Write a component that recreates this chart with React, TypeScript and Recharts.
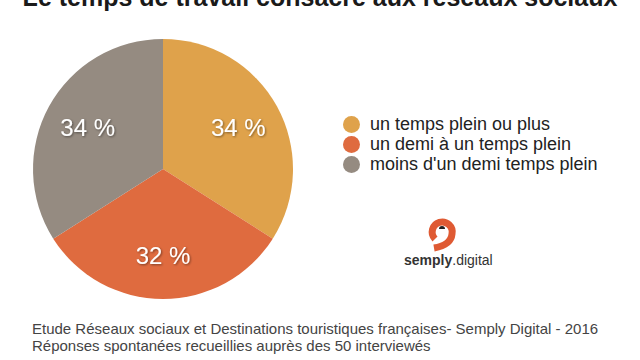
import { PieChart, Pie, Cell } from 'recharts';

const categories = ['un temps plein ou plus', 'un demi à un temps plein', "moins d'un demi temps plein"];
const shares = [34, 32, 34];
const colors = ['#DFA24B', '#DF6B3F', '#958B81'];

const title = 'Le temps de travail consacré aux réseaux sociaux';
const footer = [
    'Etude Réseaux sociaux et Destinations touristiques françaises- Semply Digital - 2016',
    'Réponses spontanées recueillies auprès des 50 interviewés',
];

const data = categories.map((name, i) => ({ name, value: shares[i] }));

const RAD = Math.PI / 180;

const renderLabel = (props: any) => {
    const { cx, cy, midAngle, value } = props;
    const r = 86;
    const x = cx + r * Math.cos(-midAngle * RAD);
    const y = cy + r * Math.sin(-midAngle * RAD);
    return (
        <text
            x={x}
            y={y}
            fill="#fff"
            textAnchor="middle"
            dominantBaseline="central"
            fontSize={24}
            fontFamily="'Liberation Sans', Arial, sans-serif"
            filter="url(#lblShadow)"
        >
            {`${value} %`}
        </text>
    );
};

function Logo() {
    return (
        <>
            <svg width={50} height={45} style={{ position: 'absolute', left: 420, top: 210, display: 'block' }}>
                <path d="M 15 29 A 10 10 0 1 1 32 24 Q 31 35 14 38" fill="none" stroke="#DF5A33" strokeWidth={7} />
                <path d="M 19 19 A 3 3 0 0 1 25 19 Z" fill="#222" />
            </svg>
            <div style={{ position: 'absolute', top: 252, left: 404, fontSize: 14, color: '#333', whiteSpace: 'nowrap' }}>
                <b>semply</b>.digital
            </div>
        </>
    );
}

export default function App() {
    return (
        <div style={{ position: 'fixed', left: 0, top: 0, width: 640, height: 360, background: '#fff', overflow: 'hidden', fontFamily: "'Liberation Sans', Arial, sans-serif" }}>
            <div style={{ position: 'absolute', left: 0, width: 640, top: -17, textAlign: 'center', fontSize: 25, fontWeight: 'bold', color: '#1a1a1a', whiteSpace: 'nowrap' }}>
                {title}
            </div>
            <div style={{ position: 'absolute', left: 0, top: 0 }}>
                <PieChart width={330} height={330} margin={{ top: 0, right: 0, bottom: 0, left: 0 }}>
                    <defs>
                        <filter id="lblShadow" x="-20%" y="-20%" width="140%" height="140%">
                            <feDropShadow dx={1} dy={1} stdDeviation={1} floodColor="#000" floodOpacity={0.45} />
                        </filter>
                    </defs>
                    <Pie
                        data={data}
                        dataKey="value"
                        nameKey="name"
                        cx={163}
                        cy={169}
                        outerRadius={130}
                        startAngle={90}
                        endAngle={-270}
                        stroke="none"
                        label={renderLabel}
                        labelLine={false}
                        isAnimationActive={false}
                    >
                        {data.map((entry, index) => (
                            <Cell key={`cell-${index}`} fill={colors[index]} />
                        ))}
                    </Pie>
                </PieChart>
            </div>
            <div style={{ position: 'absolute', left: 343, top: 114 }}>
                {categories.map((c, i) => (
                    <div key={c} style={{ display: 'flex', alignItems: 'center', height: 20 }}>
                        <span style={{ width: 17, height: 17, borderRadius: '50%', background: colors[i], display: 'inline-block', marginRight: 10 }} />
                        <span style={{ fontSize: 18, color: '#222', whiteSpace: 'nowrap' }}>{c}</span>
                    </div>
                ))}
            </div>
            <Logo />
            <div style={{ position: 'absolute', left: 32, top: 320, fontSize: 15, lineHeight: '17px', color: '#444' }}>
                {footer.map((f) => (
                    <div key={f} style={{ whiteSpace: 'nowrap' }}>{f}</div>
                ))}
            </div>
        </div>
    );
}
